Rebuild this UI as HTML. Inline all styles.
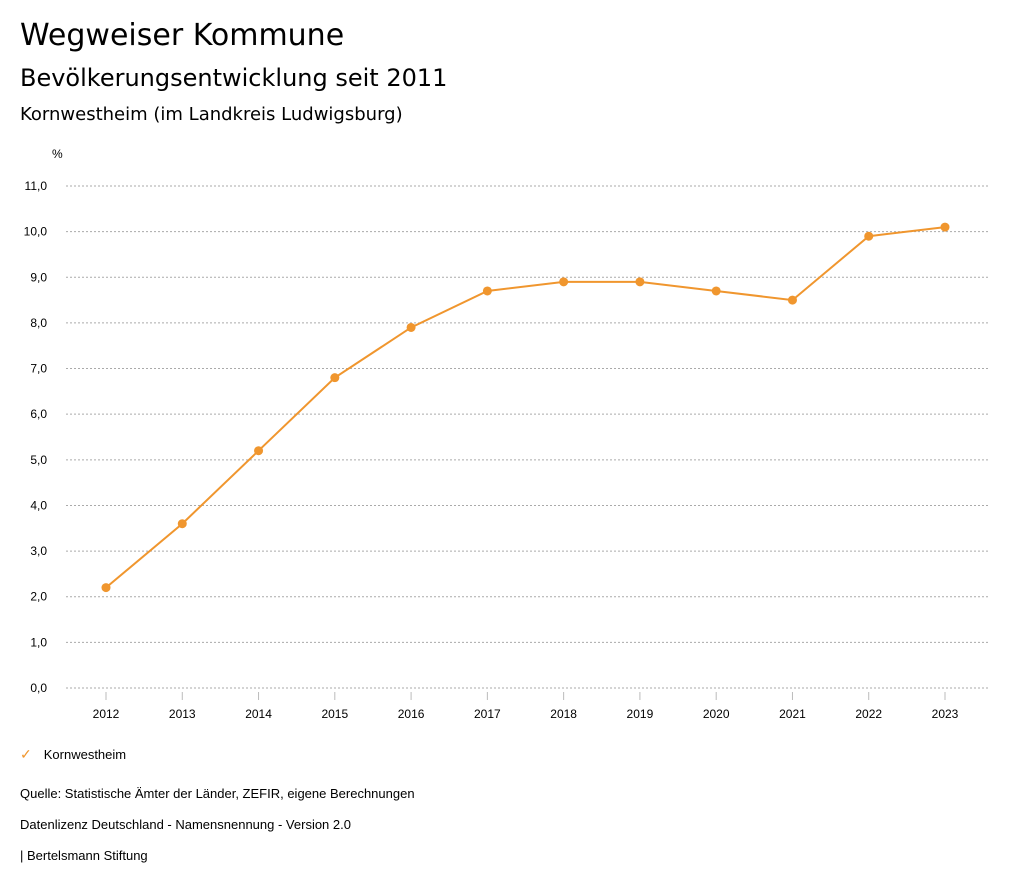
<!DOCTYPE html>
<html><head><meta charset="utf-8"><style>
body{margin:0;background:#fff;font-family:"Liberation Sans",sans-serif;color:#000;}
#wrap{position:relative;width:1024px;height:888px;overflow:hidden;}
.t{position:absolute;left:20px;white-space:nowrap;}
.h{font-family:"DejaVu Sans",sans-serif;}
</style></head><body>
<div id="wrap">
<div class="t h" style="top:18px;font-size:30px;">Wegweiser Kommune</div>
<div class="t h" style="top:64px;font-size:24px;">Bevölkerungsentwicklung seit 2011</div>
<div class="t h" style="top:104px;font-size:18px;">Kornwestheim (im Landkreis Ludwigsburg)</div>
<svg id="chart" width="1024" height="888" style="position:absolute;left:0;top:0;font-family:'Liberation Sans',sans-serif;"></svg>
<div class="t" style="top:746px;font-size:13px;"><span style="color:#f0962e;font-size:14px;margin-right:12px;">✓</span>Kornwestheim</div>
<div class="t" style="top:786px;font-size:13px;">Quelle: Statistische Ämter der Länder, ZEFIR, eigene Berechnungen</div>
<div class="t" style="top:817px;font-size:13px;">Datenlizenz Deutschland - Namensnennung - Version 2.0</div>
<div class="t" style="top:848px;font-size:13px;">| Bertelsmann Stiftung</div>
</div>
<script>
const years=["2012","2013","2014","2015","2016","2017","2018","2019","2020","2021","2022","2023"];
const values=[2.2,3.6,5.2,6.8,7.9,8.7,8.9,8.9,8.7,8.5,9.9,10.1];
const yTicks=[0,1,2,3,4,5,6,7,8,9,10,11];
const svg=document.getElementById('chart');
const NS='http://www.w3.org/2000/svg';
const x0=106,x1=945,y0=688,y1=186,yMax=11;
const xs=i=>x0+(x1-x0)*i/(years.length-1);
const ys=v=>y0-(y0-y1)*v/yMax;
function mk(t,a){const e=document.createElementNS(NS,t);for(const k in a)e.setAttribute(k,a[k]);svg.appendChild(e);return e;}
const u=mk('text',{x:52,y:158,'font-size':12});u.textContent='%';


yTicks.forEach(v=>{
 const l=mk('line',{x1:66,x2:990,y1:ys(v),y2:ys(v),stroke:'#aaa','stroke-dasharray':'2,2'});
 
 
 const t=mk('text',{x:47,y:ys(v)+4,'font-size':12,'text-anchor':'end'});
 t.textContent=v.toFixed(1).replace('.',',');
 
 
});
years.forEach((y,i)=>{
 const l=mk('line',{x1:xs(i),x2:xs(i),y1:692,y2:700,stroke:'#bbb'});
 
 
 const t=mk('text',{x:xs(i),y:718,'font-size':12,'text-anchor':'middle'});
 t.textContent=y;
 
 
});
const p=mk('polyline',{points:values.map((v,i)=>xs(i)+','+ys(v)).join(' '),fill:'none',stroke:'#f0962e','stroke-width':2});


values.forEach((v,i)=>{
 const c=mk('circle',{cx:xs(i),cy:ys(v),r:4.5,fill:'#f0962e'});
 
 
});
</script>
</body></html>
